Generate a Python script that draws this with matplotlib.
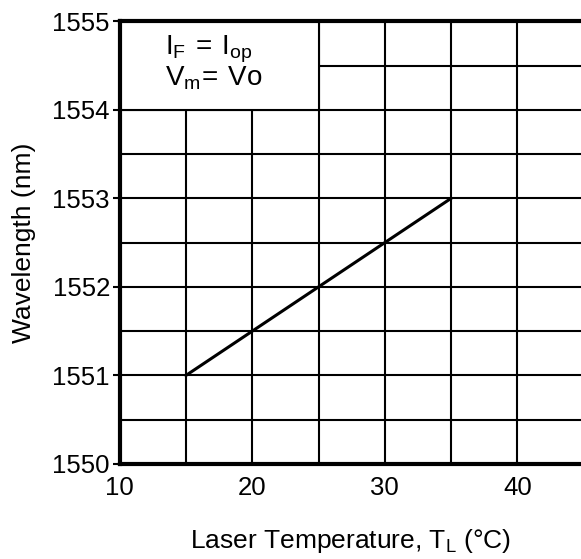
import matplotlib.pyplot as plt
from matplotlib.patches import Rectangle

# Wavelength vs laser temperature
temp_c = [15, 35]
wavelength_nm = [1551.0, 1553.0]

x_ticks = [10, 20, 30, 40]
y_ticks = [1550, 1551, 1552, 1553, 1554, 1555]
x_grid = [15, 20, 25, 30, 35, 40, 45]
y_grid = [1550.5, 1551, 1551.5, 1552, 1552.5, 1553, 1553.5, 1554, 1554.5]

plt.rcParams["font.family"] = ["Liberation Sans", "DejaVu Sans"]
plt.rcParams["mathtext.fontset"] = "custom"
plt.rcParams["mathtext.rm"] = "Liberation Sans"

fig = plt.figure(figsize=(5.81, 5.59), dpi=100)
ax = fig.add_axes([0.206, 0.17, 0.794, 0.792])
ax.set_xlim(10, 44.8)
ax.set_ylim(1550, 1555)

for xv in x_grid:
    ax.axvline(xv, color="black", lw=1.5, zorder=1)
for yv in y_grid:
    ax.axhline(yv, color="black", lw=1.5, zorder=1)

# box with the operating conditions hides the grid behind it
ax.add_patch(Rectangle((10, 1554), 15, 1, facecolor="white",
                       edgecolor="black", lw=1.5, zorder=2))
ax.text(13.4, 1554.68, r"$\mathregular{I_F\,=\,I_{op}}$", fontsize=20, zorder=3,
        va="center")
ax.text(13.4, 1554.36, r"$\mathregular{V_m\!=\,Vo}$", fontsize=20, zorder=3,
        va="center")

ax.plot(temp_c, wavelength_nm, color="black", lw=2.2, zorder=4)

ax.set_xticks(x_ticks)
ax.set_yticks(y_ticks)
ax.tick_params(axis="x", length=0, pad=9, labelsize=18.5)
ax.tick_params(axis="y", length=5, width=1.5, pad=2, labelsize=18.5)
ax.spines["right"].set_visible(False)
for side in ["left", "top", "bottom"]:
    ax.spines[side].set_linewidth(3)
    ax.spines[side].set_zorder(5)

ax.set_xlabel(r"Laser Temperature, $\mathregular{T_L}$ (°C)", fontsize=19, labelpad=19)
ax.set_ylabel("Wavelength (nm)", fontsize=19, labelpad=12)

plt.savefig("out.png", dpi=100)
plt.close()
